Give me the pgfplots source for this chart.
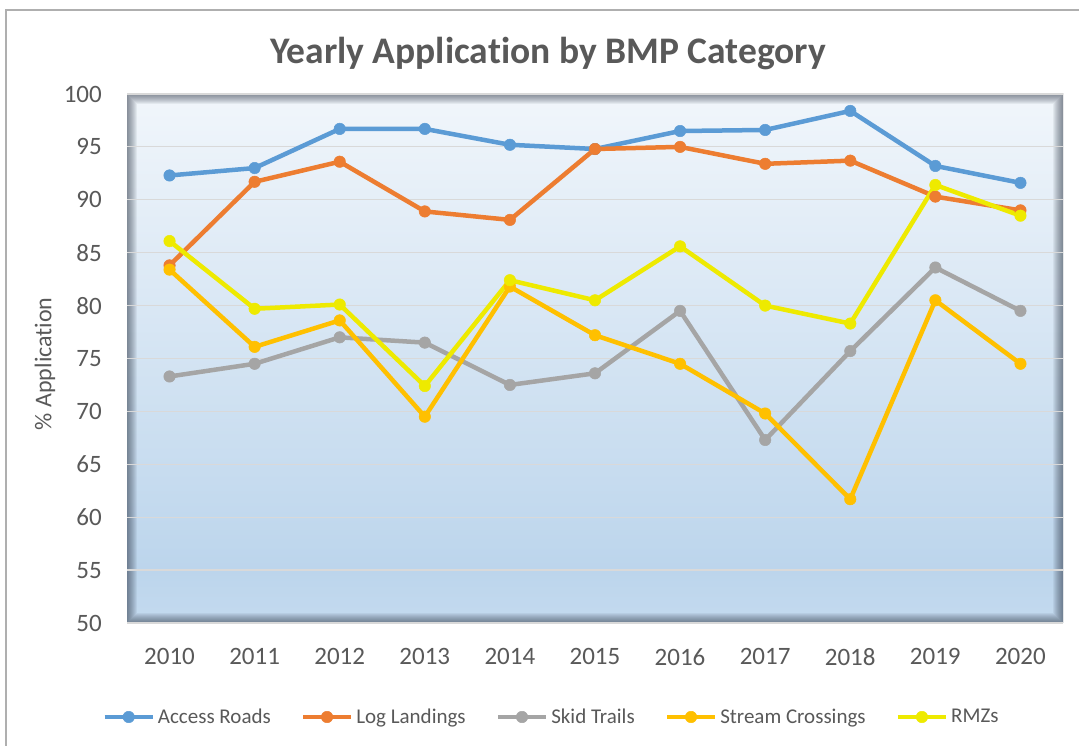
\documentclass[border=0pt]{standalone}
\usepackage{fontspec}
\setmainfont{Carlito}[Ligatures=NoCommon]
\usepackage{pgfplots}
\pgfplotsset{compat=1.18}

\definecolor{txt}{HTML}{595959}
\definecolor{cA}{HTML}{5B9BD5}
\definecolor{cB}{HTML}{ED7D31}
\definecolor{cC}{HTML}{A5A5A5}
\definecolor{cD}{HTML}{FFC000}
\definecolor{cE}{HTML}{EEEA00}
\definecolor{bgtop}{HTML}{F1F6FB}
\definecolor{bgmid}{HTML}{BCD5EC}
\definecolor{bgbot}{HTML}{C4DAEF}
\definecolor{shd}{RGB}{40,50,65}
\definecolor{gridc}{RGB}{217,217,217}
\definecolor{framec}{RGB}{175,175,175}
\pgfdeclareverticalshading{plotbg}{100bp}{color(0bp)=(bgbot); color(25bp)=(bgbot); color(30bp)=(bgmid); color(75bp)=(bgtop); color(100bp)=(bgtop)}

\begin{document}
\begin{tikzpicture}
\useasboundingbox (0,0) rectangle (1079pt,746pt);
\fill[white] (0,0) rectangle (1079pt,746pt);
\draw[framec, line width=1.5pt] (6pt,-20pt) -- (6pt,736pt) -- (1100pt,736pt);
\shade[shading=plotbg] (127pt,123pt) rectangle (1063pt,652pt);
\begin{scope}
\clip (127pt,123pt) rectangle (1063pt,652pt);
\foreach \k in {1,...,10} {
  \pgfmathsetmacro{\lw}{2*\k}
  \draw[shd, opacity=0.065, line width=\lw pt] (127pt,123pt) rectangle (1063pt,652pt);
}
\end{scope}
\node[anchor=base, font=\bfseries\fontsize{37.5}{42}\selectfont, text=txt] at (548pt,682pt) {Yearly Application by BMP Category};

\begin{axis}[
  at={(127pt,123pt)}, anchor=south west, scale only axis,
  width=936pt, height=529pt,
  xmin=2009.5, xmax=2020.5, ymin=50, ymax=100,
  xtick={2010,...,2020}, ytick={50,55,...,100},
  axis line style={draw=none}, major tick length=0pt,
  ymajorgrids, grid style={gridc, line width=1.2pt},
  /pgf/number format/assume math mode=true,
  /pgf/number format/1000 sep={},
  ticklabel style={font=\fontsize{25}{30}\selectfont, text=txt},
  yticklabel style={inner sep=0pt, anchor=east, xshift=-25pt},
  xticklabel style={inner sep=0pt, anchor=north, yshift=-25pt},
  ylabel={\% Application},
  every axis y label/.style={at={(axis description cs:-0.0876,0.49)}, rotate=90, anchor=center, font=\fontsize{24}{28}\selectfont, text=txt},
  every axis plot/.append style={line width=4.5pt, line join=round, mark=*, mark size=5.75pt, mark options={line width=0.5pt}},
  legend columns=5,
  legend cell align=left,
  legend style={at={(axis description cs:0.453,-0.1777)}, anchor=center, draw=none, fill=none,
    font=\fontsize{21}{25}\selectfont, text=txt, nodes={inner sep=1pt},
    /tikz/every odd column/.append style={column sep=2pt},
    /tikz/every even column/.append style={column sep=29pt}},
  legend image code/.code={\draw[mark repeat=2, mark phase=2, #1] plot coordinates {(0pt,0pt) (24pt,0pt) (48pt,0pt)};},
]
\addplot[cA] coordinates {(2010,92.3) (2011,93.0) (2012,96.7) (2013,96.7) (2014,95.2) (2015,94.8) (2016,96.5) (2017,96.6) (2018,98.4) (2019,93.2) (2020,91.6)};
\addlegendentry{Access Roads}
\addplot[cB] coordinates {(2010,83.8) (2011,91.7) (2012,93.6) (2013,88.9) (2014,88.1) (2015,94.8) (2016,95.0) (2017,93.4) (2018,93.7) (2019,90.3) (2020,89.0)};
\addlegendentry{Log Landings}
\addplot[cC] coordinates {(2010,73.3) (2011,74.5) (2012,77.0) (2013,76.5) (2014,72.5) (2015,73.6) (2016,79.5) (2017,67.3) (2018,75.7) (2019,83.6) (2020,79.5)};
\addlegendentry{Skid Trails}
\addplot[cD] coordinates {(2010,83.4) (2011,76.1) (2012,78.6) (2013,69.5) (2014,81.8) (2015,77.2) (2016,74.5) (2017,69.8) (2018,61.7) (2019,80.5) (2020,74.5)};
\addlegendentry{Stream Crossings}
\addplot[cE] coordinates {(2010,86.1) (2011,79.7) (2012,80.1) (2013,72.4) (2014,82.4) (2015,80.5) (2016,85.6) (2017,80.0) (2018,78.3) (2019,91.4) (2020,88.5)};
\addlegendentry{RMZs}
\end{axis}
\end{tikzpicture}
\end{document}
